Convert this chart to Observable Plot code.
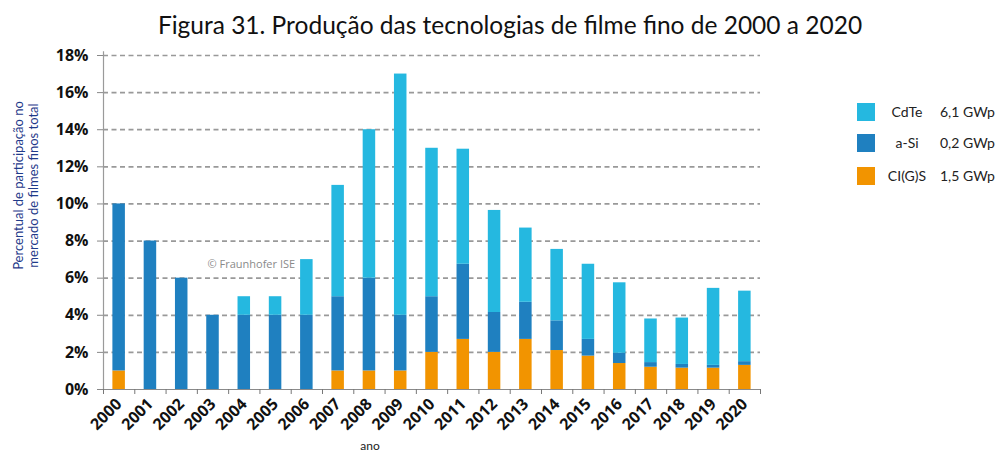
<!DOCTYPE html>
<html><head><meta charset="utf-8">
<script src="https://cdn.jsdelivr.net/npm/d3@7"></script>
<script src="https://cdn.jsdelivr.net/npm/@observablehq/plot@0.6"></script>
<style>
body{margin:0;background:#fff;width:998px;height:454px;overflow:hidden;position:relative;font-family:Lato,sans-serif}
#title{position:absolute;left:0;top:10px;width:998px;padding-left:22px;box-sizing:border-box;text-align:center;font-size:24.5px;line-height:30px;color:#111;white-space:nowrap}
#chart{position:absolute;left:0;top:44px}
#legend{position:absolute;left:857px;top:103px;font-size:14px;color:#222}
.row{position:absolute;left:0;height:18px;width:140px}
.sw{position:absolute;left:0;top:0;width:18px;height:18px}
.nm{position:absolute;left:24px;width:52px;text-align:center;line-height:18px}
.vl{position:absolute;left:83px;line-height:18px;white-space:nowrap}
</style></head><body>
<div id="title">Figura 31. Produção das tecnologias de filme fino de 2000 a 2020</div>
<div id="chart"></div>
<div id="legend"></div>
<script>
const years = ["2000","2001","2002","2003","2004","2005","2006","2007","2008","2009","2010","2011","2012","2013","2014","2015","2016","2017","2018","2019","2020"];
const cigs = [1,0,0,0,0,0,0,1,1,1,2,2.7,2.0,2.7,2.1,1.8,1.4,1.2,1.15,1.15,1.3];
const asi  = [9,8,6,4,4,4,4,4,5,3,3,4.05,2.15,2.0,1.6,0.9,0.55,0.25,0.2,0.15,0.2];
const cdte = [0,0,0,0,1,1,3,6,8,13,8,6.2,5.5,4.0,3.85,4.05,3.8,2.35,2.5,4.15,3.8];
const seriesNames = ["CI(G)S","a-Si","CdTe"];
const legendNames = ["CdTe","a-Si","CI(G)S"];
const legendValues = ["6,1 GWp","0,2 GWp","1,5 GWp"];
const yTicks = [0,2,4,6,8,10,12,14,16,18];
const colors = {"CdTe":"#25b8e0","a-Si":"#1f80c0","CI(G)S":"#f29400"};

const rows = [];
years.forEach((y,i)=>{
  rows.push({year:y, tech:"CI(G)S", v:cigs[i]});
  rows.push({year:y, tech:"a-Si", v:asi[i]});
  rows.push({year:y, tech:"CdTe", v:cdte[i]});
});

const W = 998, H = 410, mL = 103, mR = 238, mT = 11, mB = 65;
const pi = 0.6, po = 0.3;
const step = (W - mL - mR) / (years.length - pi + 2*po);

const plot = Plot.plot({
  width: W, height: H,
  marginLeft: mL, marginRight: mR, marginTop: mT, marginBottom: mB,
  style: {fontFamily: "'Open Sans', sans-serif", background: "white", color: "#111"},
  x: {domain: years, paddingInner: pi, paddingOuter: po, round: false, label: null},
  y: {domain: [0,18], label: null},
  color: {domain: seriesNames, range: seriesNames.map(s=>colors[s])},
  marks: [
    Plot.ruleY(yTicks.filter(d=>d>0), {stroke:"#999", strokeWidth:1.7, strokeDasharray:"5,3.5"}),
    Plot.barY(rows, {x:"year", y:"v", fill:"tech", order: seriesNames}),
    Plot.ruleY([0], {stroke:"#8a8a8a", strokeWidth:1.2}),
    Plot.ruleX([years[0]], {dx: -step/2, y1: 0, y2: 18.2, stroke:"#9a9a9a", strokeWidth:1.2}),
    Plot.axisY(yTicks, {tickSize:6, tickPadding:9, stroke:"#888", tickFormat: d=>d+"%", fontSize:16, fontWeight:"bold", label:null}),
    Plot.axisX(years, {tickSize:5, tickFormat: ()=>"", dx: -step/2, stroke:"#777", label:null}),
    Plot.axisX([years[years.length-1]], {tickSize:5, tickFormat: ()=>"", dx: step/2, stroke:"#777", label:null}),
    Plot.axisX(years, {tickSize:0, tickRotate:-45, tickPadding:12, fontSize:16, fontWeight:"bold", label:null}),
    Plot.text(["Percentual de participação no\nmercado de filmes finos total"], {frameAnchor:"left", rotate:-90, textAnchor:"middle", lineAnchor:"middle", dx:-78, dy:-37, fontSize:13, fill:"#1f3a8a", fontFamily:"Lato, sans-serif", lineHeight:1.2}),
    Plot.text(["© Fraunhofer ISE"], {frameAnchor:"top-left", textAnchor:"start", dx:104, dy:205, fontSize:11, fill:"#8a8a8a"}),
    Plot.text(["ano"], {frameAnchor:"bottom", dx:-62, dy:60, fontSize:12, fill:"#222", fontFamily:"Lato, sans-serif"})
  ]
});
document.getElementById("chart").appendChild(plot);

const lg = document.getElementById("legend");
const tops = [0, 31, 64];
legendNames.forEach((n,i)=>{
  const r = document.createElement("div");
  r.className = "row"; r.style.top = tops[i] + "px";
  r.innerHTML = `<div class="sw" style="background:${colors[n]}"></div><div class="nm">${n}</div><div class="vl">${legendValues[i]}</div>`;
  lg.appendChild(r);
});
</script>
</body></html>
